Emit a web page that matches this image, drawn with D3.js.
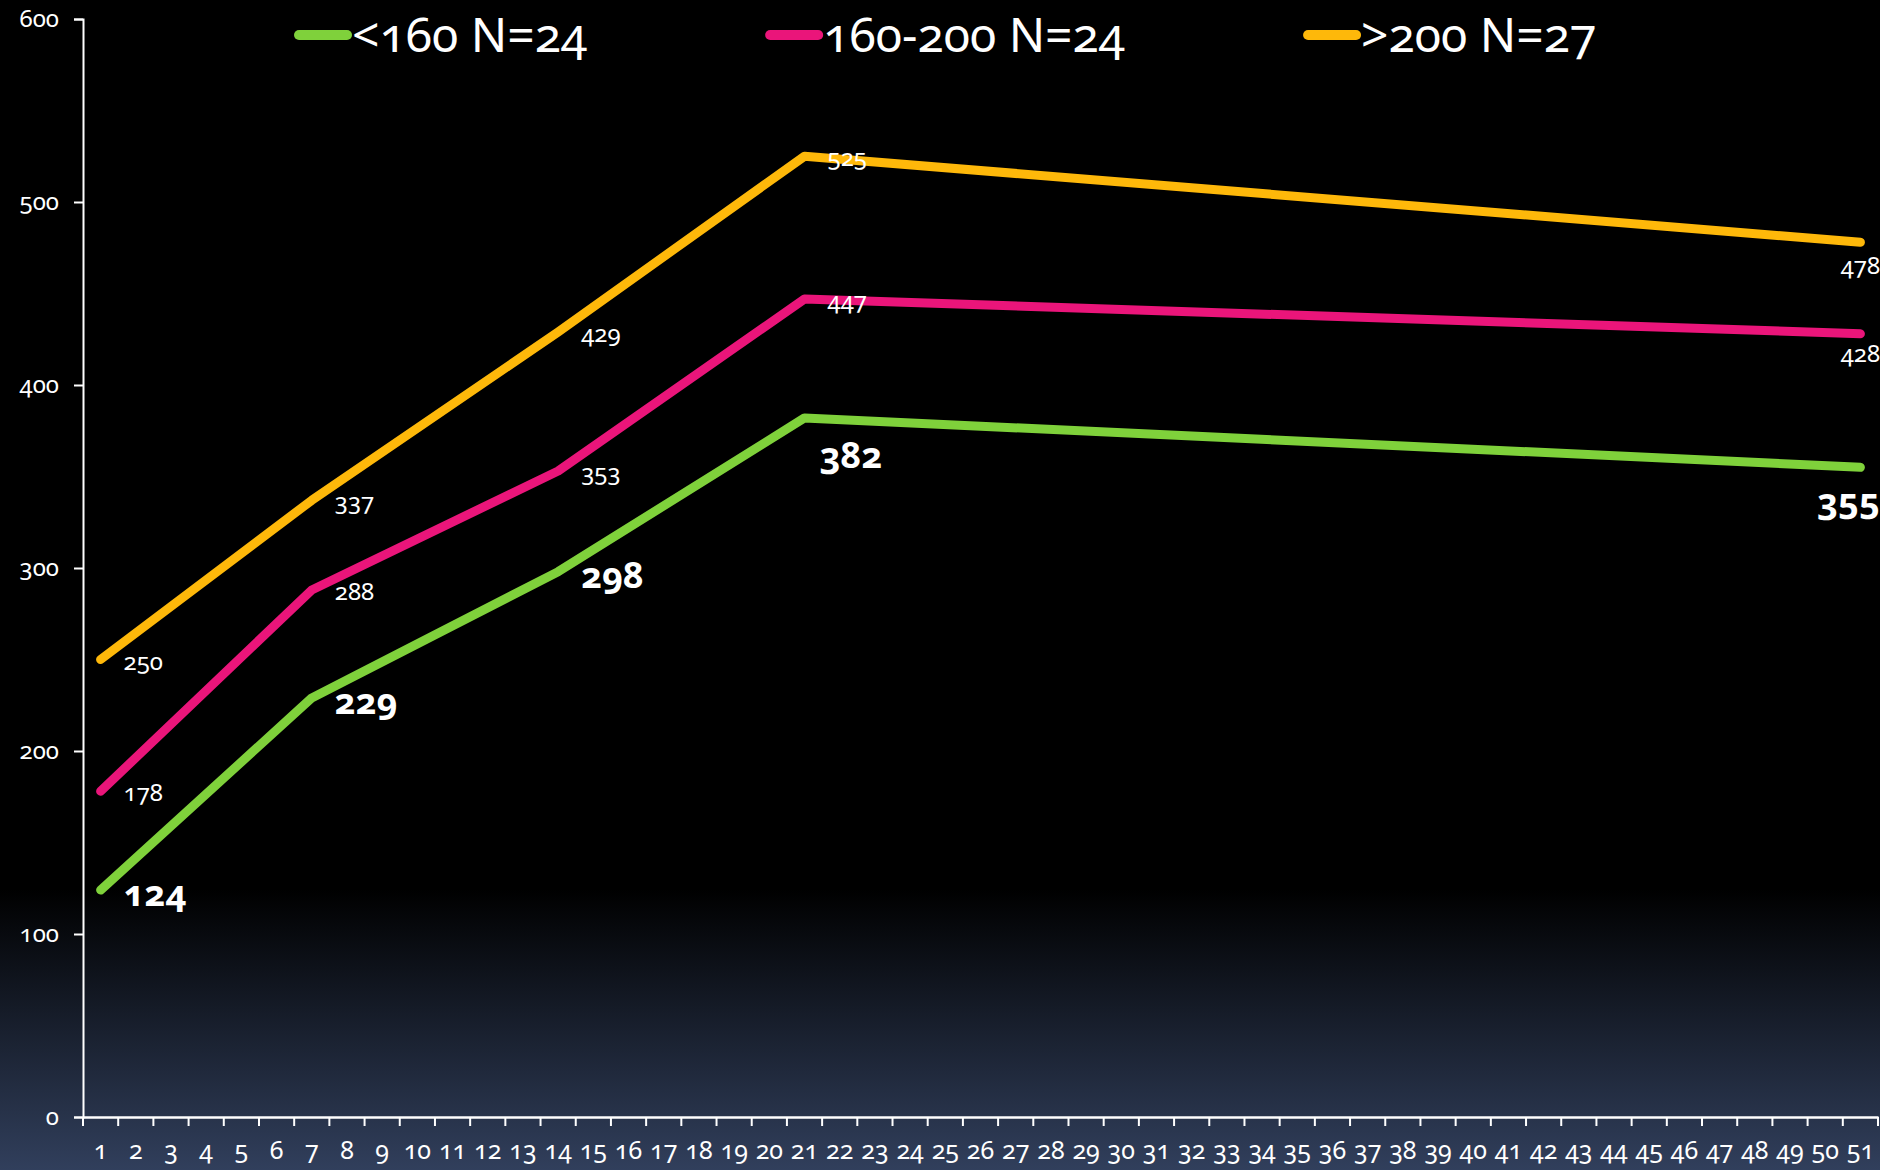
<!DOCTYPE html>
<html>
<head>
<meta charset="utf-8">
<script src="https://cdn.jsdelivr.net/npm/d3@7"></script>
<style>
  body { margin: 0; background: #000; }
  svg text { font-family: "Noto Sans", "Open Sans", sans-serif; font-variant-numeric: oldstyle-nums; font-feature-settings: "onum" 1; }
</style>
</head>
<body>
<div class="chart"></div>
<script>
// Weeks on the category axis, 1..51.
const weeks = d3.range(1, 52);
const yTicks = [0, 100, 200, 300, 400, 500, 600];

// Measured weeks and values for each group.
const pointWeeks = [1, 7, 14, 21, 51];
const under160 = [124, 229, 298, 382, 355];
const from160to200 = [178, 288, 353, 447, 428];
const over200 = [250, 337, 429, 525, 478];

const seriesNames = ["<160 N=24", "160-200 N=24", ">200 N=27"];
const seriesColors = ["#7fd13b", "#ea157a", "#feb80a"];

const width = 1880, height = 1170;

const svg = d3.select(".chart")
  .append("svg")
  .attr("width", width)
  .attr("height", height)
  .attr("viewBox", [0, 0, width, height]);

// Background: black that fades into slate blue at the bottom.
const grad = svg.append("defs").append("linearGradient")
  .attr("id", "bg")
  .attr("x1", 0).attr("y1", 0).attr("x2", 0).attr("y2", 1);
grad.append("stop").attr("offset", 0).attr("stop-color", "#000000");
grad.append("stop").attr("offset", 0.76).attr("stop-color", "#000000");
grad.append("stop").attr("offset", 1).attr("stop-color", "#313f5c");
svg.append("rect")
  .attr("width", width).attr("height", height)
  .attr("fill", "url(#bg)");

const x = d3.scaleBand()
  .domain(weeks)
  .range([83, 1878])
  .padding(0);
const y = d3.scaleLinear()
  .domain([0, 600])
  .range([1117, 19]);
const cx = d => x(d) + x.bandwidth() / 2;

// Y axis.
const yAxis = svg.append("g")
  .attr("transform", `translate(${x.range()[0]},0)`)
  .call(d3.axisLeft(y).tickValues(yTicks).tickSize(9).tickPadding(15).tickFormat(d3.format("d")));
yAxis.select(".domain").attr("stroke", "#ffffff").attr("stroke-width", 2);
yAxis.selectAll(".tick line").attr("stroke", "#ffffff").attr("stroke-width", 2);
yAxis.selectAll(".tick text")
  .attr("fill", "#ffffff")
  .attr("font-size", "24px");

// X axis: labels centred in each band, tick marks on the band edges.
const xAxis = svg.append("g")
  .attr("transform", `translate(0,${y(0)})`)
  .call(d3.axisBottom(x).tickSize(0).tickPadding(24).tickSizeOuter(0));
xAxis.select(".domain").attr("stroke", "#ffffff").attr("stroke-width", 2.5);
xAxis.selectAll(".tick text")
  .attr("fill", "#ffffff")
  .attr("font-size", "25px");
xAxis.selectAll(".edgeTick")
  .data(weeks.concat([null]))
  .join("line")
  .attr("class", "edgeTick")
  .attr("x1", (d, i) => x.range()[0] + i * x.bandwidth())
  .attr("x2", (d, i) => x.range()[0] + i * x.bandwidth())
  .attr("y1", 0).attr("y2", 9)
  .attr("stroke", "#ffffff")
  .attr("stroke-width", 2);

// Lines.
const allSeries = [under160, from160to200, over200];
const line = d3.line()
  .x((d, i) => cx(pointWeeks[i]))
  .y(d => y(d));
allSeries.forEach((values, s) => {
  svg.append("path")
    .datum(values)
    .attr("fill", "none")
    .attr("stroke", seriesColors[s])
    .attr("stroke-width", 9)
    .attr("stroke-linecap", "round")
    .attr("stroke-linejoin", "round")
    .attr("d", line);
});

// Data labels. Most sit right of the point; a few were dropped below it.
const nudges = {
  "0-3": { dx: 15, dy: 50, anchor: "start" },
  "0-4": { dx: -12, dy: 47, anchor: "middle" },
  "1-4": { dx: 0, dy: 28, anchor: "middle" },
  "2-4": { dx: 0, dy: 32, anchor: "middle" }
};
allSeries.forEach((values, s) => {
  const bold = s === 0;
  values.forEach((v, i) => {
    const n = nudges[`${s}-${i}`] || { dx: 23, dy: bold ? 16 : 10, anchor: "start" };
    svg.append("text")
      .attr("x", cx(pointWeeks[i]) + n.dx)
      .attr("y", y(v) + n.dy)
      .attr("text-anchor", n.anchor)
      .attr("font-size", bold ? "36px" : "24px")
      .attr("font-weight", bold ? "bold" : "normal")
      .attr("fill", "#ffffff")
      .text(v);
  });
});

// Legend across the top; items flow left to right.
let lx = 294;
seriesNames.forEach((name, s) => {
  svg.append("line")
    .attr("x1", lx + 5).attr("x2", lx + 53)
    .attr("y1", 35).attr("y2", 35)
    .attr("stroke", seriesColors[s])
    .attr("stroke-width", 10)
    .attr("stroke-linecap", "round");
  const t = svg.append("text")
    .attr("x", lx + 58)
    .attr("y", 52)
    .attr("font-size", "48px")
    .attr("fill", "#ffffff")
    .text(name);
  lx += 58 + t.node().getComputedTextLength() + 178;
});
</script>
</body>
</html>
